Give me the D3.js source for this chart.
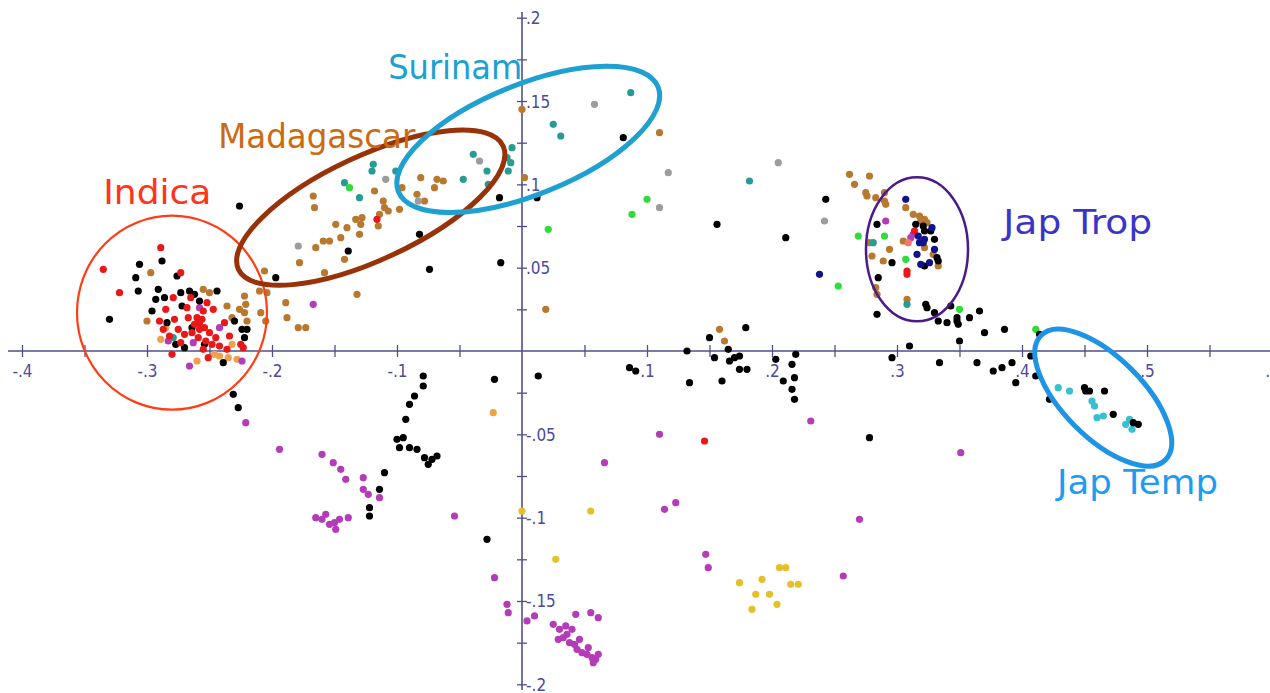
<!DOCTYPE html>
<html>
<head>
<meta charset="utf-8">
<script src="https://cdn.jsdelivr.net/npm/d3@7/dist/d3.min.js"></script>
<style>
  html, body { margin: 0; padding: 0; background: #fff; }
  svg { display: block; }
</style>
</head>
<body>
<svg id="chart" width="1270" height="693"></svg>
<script>
// Axis ticks and labels
const xTickValues = [-0.4, -0.3, -0.2, -0.1, 0.1, 0.2, 0.3, 0.4, 0.5, 0.6];
const xTickLabels = ["-.4", "-.3", "-.2", "-.1", ".1", ".2", ".3", ".4", ".5", ".6"];
const xMinorTicks = [-0.35, -0.25, -0.15, -0.05, 0.05, 0.15, 0.25, 0.35, 0.45, 0.55];
const yTickValues = [0.2, 0.15, 0.1, 0.05, -0.05, -0.1, -0.15, -0.2];
const yTickLabels = [".2", ".15", ".1", ".05", "-.05", "-.1", "-.15", "-.2"];
const yMinorTicks = [0.175, 0.125, 0.075, 0.025, -0.025, -0.075, -0.125, -0.175];

// Accessions on the first two principal axes, grouped by colour class [PC1, PC2]
const brownPts = [
  [-0.297,0.047],[-0.255,0.037],[-0.250,0.035],[-0.300,0.018],[-0.236,0.027],[-0.226,0.025],
  [-0.221,0.028],[-0.222,0.023],[-0.220,0.018],[-0.222,0.033],[-0.210,0.036],[-0.209,0.023],
  [-0.206,0.048],[-0.204,0.035],[-0.205,0.018],[-0.232,0.020],[-0.189,0.029],[-0.188,0.020],
  [-0.179,0.014],[-0.173,0.014],
  [-0.167,0.093],[-0.166,0.086],[-0.118,0.096],[-0.096,0.098],[-0.111,0.090],[-0.110,0.086],
  [-0.107,0.084],[-0.098,0.085],[-0.114,0.082],[-0.115,0.075],[-0.133,0.079],[-0.128,0.080],
  [-0.129,0.076],[-0.149,0.076],[-0.140,0.074],[-0.130,0.070],[-0.159,0.066],[-0.154,0.066],
  [-0.145,0.068],[-0.165,0.062],[-0.142,0.055],[-0.178,0.053],[-0.158,0.047],[-0.132,0.034],
  [-0.081,0.104],[-0.068,0.103],[-0.063,0.102],[-0.070,0.098],[-0.084,0.094],[-0.078,0.090],
  [0.002,0.104],[0.000,0.145],[0.110,0.131],[0.019,0.025],
  [0.262,0.106],[0.266,0.100],[0.278,0.105],[0.275,0.095],[0.276,0.093],[0.283,0.092],
  [0.290,0.095],[0.290,0.090],[0.291,0.088],[0.307,0.086],[0.278,0.065],[0.294,0.061],
  [0.280,0.057],[0.289,0.054],[0.305,0.066],[0.313,0.082],[0.318,0.081],[0.322,0.079],
  [0.324,0.077],[0.319,0.078],[0.322,0.062],[0.329,0.058],[0.333,0.051],[0.283,0.038],
  [0.284,0.034],[0.308,0.031],[0.158,0.013],[0.162,0.006]
];
const orangePts = [
  [-0.289,0.007],[-0.260,-0.006],[-0.246,-0.002],[-0.235,-0.004],[-0.228,-0.005],
  [-0.242,-0.003],[-0.285,0.014],[-0.232,0.004],[-0.023,-0.037]
];
const grayPts = [
  [-0.109,0.103],[-0.179,0.063],[-0.083,0.090],[-0.034,0.114],[0.058,0.148],
  [0.117,0.107],[0.110,0.086],[0.205,0.113],[0.242,0.078]
];
const tealPts = [
  [-0.119,0.112],[-0.120,0.108],[-0.101,0.108],[-0.142,0.101],[-0.130,0.092],
  [-0.047,0.103],[-0.039,0.118],[-0.028,0.108],[-0.027,0.100],[-0.008,0.122],
  [-0.012,0.116],[-0.009,0.113],[-0.011,0.108],[0.025,0.136],[0.031,0.129],
  [0.087,0.155],[0.182,0.102],[0.281,0.065],[0.308,0.028],[-0.279,0.008]
];
const cyanPts = [
  [0.429,-0.022],[0.438,-0.024],[0.456,-0.030],[0.458,-0.033],[0.460,-0.040],
  [0.465,-0.039],[0.483,-0.044],[0.486,-0.041],[0.488,-0.047]
];
const greenPts = [
  [-0.138,0.098],[0.021,0.073],[0.100,0.091],[0.088,0.082],[0.269,0.069],
  [0.253,0.039],[0.290,0.069],[0.307,0.055],[0.350,0.025],[0.411,0.013]
];
const yellowPts = [
  [0.000,-0.096],[0.055,-0.096],[0.027,-0.125],[0.174,-0.139],[0.184,-0.155],
  [0.187,-0.146],[0.198,-0.146],[0.206,-0.130],[0.211,-0.130],[0.215,-0.140],
  [0.221,-0.140],[0.192,-0.137],[0.204,-0.152]
];
const magentaPts = [
  [-0.258,0.026],[-0.242,0.014],[-0.283,0.006],[-0.263,0.005],[-0.266,-0.009],
  [-0.224,-0.006],[-0.167,0.028],[-0.221,-0.043],
  [0.291,0.078],[0.311,0.068],[0.313,0.070],
  [-0.194,-0.059],[-0.160,-0.062],[-0.151,-0.067],[-0.145,-0.071],[-0.141,-0.077],
  [-0.127,-0.076],[-0.127,-0.083],[-0.123,-0.086],[-0.114,-0.088],[-0.165,-0.100],
  [-0.160,-0.101],[-0.154,-0.104],[-0.150,-0.103],[-0.146,-0.101],[-0.139,-0.100],
  [-0.149,-0.107],[-0.157,-0.098],[-0.054,-0.099],[-0.022,-0.136],[-0.012,-0.152],
  [-0.011,-0.157],[0.004,-0.162],[0.010,-0.159],
  [0.025,-0.164],[0.030,-0.167],[0.033,-0.172],[0.036,-0.170],[0.038,-0.175],
  [0.042,-0.176],[0.044,-0.179],[0.048,-0.181],[0.052,-0.182],[0.056,-0.184],
  [0.059,-0.185],[0.061,-0.182],[0.053,-0.178],[0.046,-0.173],[0.040,-0.167],
  [0.035,-0.165],[0.055,-0.157],[0.061,-0.160],[0.043,-0.158],[0.029,-0.173],
  [0.057,-0.187],
  [0.110,-0.050],[0.066,-0.067],[0.114,-0.095],[0.123,-0.091],[0.147,-0.122],
  [0.149,-0.130],[0.231,-0.042],[0.270,-0.101],[0.257,-0.135],[0.351,-0.061]
];
const blackPts = [
  [-0.288,0.054],[-0.306,0.052],[-0.309,0.044],[-0.307,0.036],[-0.330,0.019],
  [-0.276,0.045],[-0.291,0.037],[-0.293,0.031],[-0.286,0.032],[-0.296,0.024],
  [-0.273,0.035],[-0.266,0.036],[-0.262,0.034],[-0.272,0.027],[-0.258,0.030],
  [-0.244,0.036],[-0.284,0.017],[-0.277,0.004],[-0.270,0.002],[-0.264,0.014],
  [-0.239,-0.007],[-0.230,0.018],[-0.224,0.013],[-0.220,0.013],[-0.222,0.008],
  [-0.254,0.004],
  [-0.226,0.087],[-0.197,0.044],[-0.139,0.060],[-0.082,0.070],[-0.074,0.049],
  [-0.017,0.053],[-0.018,0.092],[0.012,0.092],[0.081,0.128],
  [0.156,0.076],[0.211,0.068],[0.243,0.091],
  [0.284,0.076],[0.296,0.053],[0.315,0.076],[0.321,0.075],[0.322,0.072],[0.327,0.072],
  [0.330,0.067],[0.332,0.056],[0.333,0.054],[0.322,0.051],[0.285,0.044],[0.284,0.022],
  [0.323,0.028],[0.324,0.026],[0.330,0.023],[0.333,0.018],[0.340,0.017],[0.343,0.027],
  [0.348,0.020],[0.348,0.018],[0.349,0.016],[0.358,0.020],[0.366,0.024],[0.370,0.011],
  [0.386,0.013],[0.350,0.006],[0.310,0.003],[0.296,-0.004],[0.334,-0.007],[0.364,-0.007],
  [0.377,-0.012],[0.384,-0.010],[0.392,-0.007],[0.395,-0.019],[0.407,-0.003],[0.411,-0.015],
  [0.414,0.010],[0.422,-0.029],
  [0.450,-0.022],[0.451,-0.024],[0.454,-0.024],[0.466,-0.024],[0.473,-0.038],
  [0.489,-0.043],[0.493,-0.044],
  [0.086,-0.010],[0.091,-0.012],[0.132,0.000],[0.134,-0.019],[0.150,0.008],[0.179,0.014],
  [0.165,0.001],[0.154,-0.004],[0.166,-0.006],[0.170,-0.004],[0.174,-0.003],[0.174,-0.011],
  [0.180,-0.011],[0.160,-0.018],[0.203,-0.005],[0.219,-0.002],[0.216,-0.008],[0.218,-0.016],
  [0.209,-0.018],[0.216,-0.023],[0.218,-0.029],
  [-0.079,-0.015],[-0.079,-0.021],[-0.022,-0.017],[0.013,-0.015],[0.278,-0.052],
  [-0.086,-0.027],[-0.090,-0.032],[-0.093,-0.041],[-0.100,-0.053],[-0.095,-0.052],
  [-0.098,-0.058],[-0.090,-0.058],[-0.084,-0.059],[-0.078,-0.064],[-0.072,-0.065],
  [-0.075,-0.068],[-0.068,-0.063],[-0.110,-0.073],[-0.114,-0.083],[-0.122,-0.094],
  [-0.122,-0.099],[-0.231,-0.026],[-0.227,-0.034],[-0.028,-0.113]
];
const redPts = [
  [-0.335,0.049],[-0.289,0.062],[-0.322,0.035],[-0.273,0.047],[-0.285,0.025],
  [-0.279,0.032],[-0.265,0.032],[-0.268,0.026],[-0.252,0.029],[-0.255,0.024],
  [-0.247,0.025],[-0.267,0.020],[-0.260,0.020],[-0.256,0.019],[-0.290,0.018],
  [-0.278,0.019],[-0.287,0.013],[-0.282,0.009],[-0.275,0.013],[-0.280,-0.002],
  [-0.251,-0.004],[-0.242,0.003],[-0.236,0.001],[-0.238,0.017],[-0.225,0.004],
  [-0.223,0.002],[-0.262,0.016],[-0.258,0.013],[-0.254,0.014],[-0.250,0.011],
  [-0.259,0.008],[-0.253,0.006],[-0.248,0.004],[-0.264,0.011],[-0.255,0.001],
  [-0.245,0.008],[-0.270,0.010],[-0.273,0.005],[-0.258,0.017],[-0.234,0.009],
  [-0.116,0.079],[0.308,0.048],[0.308,0.046],[0.314,0.072],[0.146,-0.054]
];
const navyPts = [
  [0.238,0.046],[0.307,0.091],[0.317,0.069],[0.318,0.065],[0.321,0.065],
  [0.322,0.067],[0.316,0.058],[0.330,0.061],[0.319,0.052],[0.326,0.053],[0.328,0.074]
];
const salmonPts = [[0.309,0.065]];

// Group annotations: label, anchor of text [PC1, PC2], ellipse centre [PC1, PC2]
const groupNames = ["Indica", "Madagascar", "Surinam", "Jap Trop", "Jap Temp"];
const groupTextAt = [[-0.335,0.088],[-0.243,0.122],[-0.107,0.163],[0.385,0.070],[0.428,-0.086]];
const groupCentres = [[-0.280,0.023],[-0.121,0.086],[0.005,0.127],[0.316,0.061],[0.465,-0.028]];

// ---- drawing ----
const W = 1270, H = 693;
const svg = d3.select("#chart");
svg.append("rect").attr("width", W).attr("height", H).attr("fill", "#fff");

const x = d3.scaleLinear().domain([-0.4, 0.6]).range([22, 1272]);
const y = d3.scaleLinear().domain([-0.2, 0.2]).range([684.3, 17.7]);

const axisColor = "#4f4f8f";
const labelColor = "#4a4a9e";
const tickFont = "'Liberation Sans Narrow', 'Arial Narrow', 'DejaVu Sans Condensed', sans-serif";

// x axis, crossing at PC2 = 0
const xAxisG = svg.append("g").attr("transform", `translate(0,${y(0)})`);
xAxisG.call(d3.axisBottom(x)
  .tickValues(xTickValues.concat(xMinorTicks))
  .tickFormat(d => { const i = xTickValues.indexOf(d); return i >= 0 ? xTickLabels[i] : ""; })
  .tickSizeOuter(0));
xAxisG.select(".domain").attr("d", `M8,0H1270`);
xAxisG.selectAll(".tick line").attr("y1", -6).attr("y2", 6);
xAxisG.selectAll(".tick text").attr("y", 26).attr("dy", 0);

// y axis, crossing at PC1 = 0
const yAxisG = svg.append("g").attr("transform", `translate(${x(0)},0)`);
yAxisG.call(d3.axisRight(y)
  .tickValues(yTickValues.concat(yMinorTicks))
  .tickFormat(d => { const i = yTickValues.indexOf(d); return i >= 0 ? yTickLabels[i] : ""; })
  .tickSizeOuter(0));
yAxisG.select(".domain").attr("d", `M0,12V690`);
yAxisG.selectAll(".tick line").attr("x1", -5).attr("x2", 5);
yAxisG.selectAll(".tick text").attr("x", 4).attr("dy", 6).attr("dominant-baseline", "auto");

[xAxisG, yAxisG].forEach(g => {
  g.select(".domain").attr("stroke", axisColor).attr("stroke-width", 1.6);
  g.selectAll(".tick line").attr("stroke", axisColor).attr("stroke-width", 1.3);
  g.selectAll(".tick text").attr("fill", labelColor)
    .style("font-family", tickFont).style("font-size", "17px");
});

// dots
const series = [
  { pts: brownPts,   color: "#b8792f" },
  { pts: orangePts,  color: "#f0a04a" },
  { pts: grayPts,    color: "#9c9c9c" },
  { pts: tealPts,    color: "#269c94" },
  { pts: cyanPts,    color: "#38bfd2" },
  { pts: greenPts,   color: "#2fdc3a" },
  { pts: yellowPts,  color: "#e6c02a" },
  { pts: magentaPts, color: "#b43cb8" },
  { pts: blackPts,   color: "#000000" },
  { pts: redPts,     color: "#e81818" },
  { pts: navyPts,    color: "#12128c" },
  { pts: salmonPts,  color: "#f07a6a" }
];
const dotsG = svg.append("g");
series.forEach(s => {
  dotsG.append("g").selectAll("circle").data(s.pts).join("circle")
    .attr("cx", d => x(d[0])).attr("cy", d => y(d[1]))
    .attr("r", 3.6).attr("fill", s.color);
});

// group outlines: radii in px, rotation in degrees
const outlineStyle = [
  { rx: 95,  ry: 97, rot: 0,   color: "#ff3c14", w: 2.2 },
  { rx: 146, ry: 52, rot: -25, color: "#983208", w: 5 },
  { rx: 140, ry: 55, rot: -22, color: "#1ea0d0", w: 5 },
  { rx: 51,  ry: 72, rot: 0,   color: "#4a1a8c", w: 2.5 },
  { rx: 88,  ry: 40, rot: 45,  color: "#1e94e6", w: 5 }
];
const textStyle = [
  { color: "#ff3418", len: 108 },
  { color: "#cc6a14", len: 197 },
  { color: "#1aa0d2", len: 134 },
  { color: "#3c34c8", len: 149 },
  { color: "#1e9cf0", len: 161 }
];
const annG = svg.append("g");
groupCentres.forEach((c, i) => {
  const o = outlineStyle[i];
  annG.append("ellipse")
    .attr("transform", `translate(${x(c[0])},${y(c[1])}) rotate(${o.rot})`)
    .attr("rx", o.rx).attr("ry", o.ry)
    .attr("fill", "none").attr("stroke", o.color).attr("stroke-width", o.w);
});
groupNames.forEach((name, i) => {
  const t = textStyle[i];
  annG.append("text")
    .attr("x", x(groupTextAt[i][0])).attr("y", y(groupTextAt[i][1]))
    .attr("fill", t.color)
    .attr("textLength", t.len).attr("lengthAdjust", "spacingAndGlyphs")
    .style("font-family", "'Comic Sans MS', 'DejaVu Sans', sans-serif")
    .style("font-size", "34px")
    .text(name);
});
</script>
</body>
</html>
